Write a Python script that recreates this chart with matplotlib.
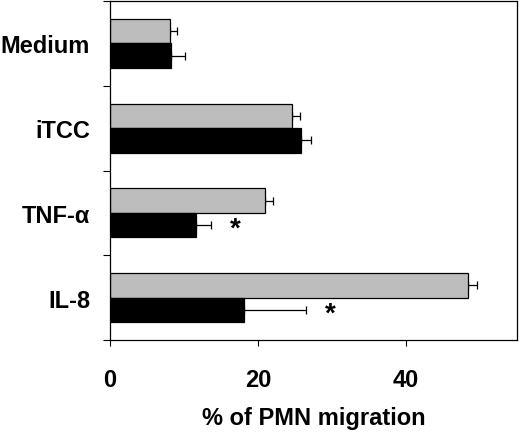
import matplotlib
matplotlib.use("Agg")
import matplotlib.pyplot as plt
import numpy as np

categories = ["Medium", "iTCC", "TNF-\u03b1", "IL-8"]
gray_values = [8.1, 24.6, 20.9, 48.4]
gray_errors = [1.0, 1.1, 1.1, 1.2]
black_values = [8.2, 25.8, 11.6, 18.1]
black_errors = [2.0, 1.4, 2.0, 8.4]
significant = [False, False, True, True]

plt.rcParams['font.family'] = ['Liberation Sans', 'DejaVu Sans']
plt.rcParams['font.weight'] = 'bold'

fig = plt.figure(figsize=(5.2, 4.35), dpi=100)
ax = fig.add_axes([110/520, 1 - 341/435, (517 - 110)/520, (341 - 2)/435])

n = len(categories)
centers = np.arange(n)[::-1] + 0.5
h = 0.29
ebar_kw = dict(fmt='none', ecolor='black', elinewidth=0.9, capsize=3, capthick=0.9)

ax.barh(centers + h/2, gray_values, height=h, color='#bdbdbd', edgecolor='black', linewidth=0.9, zorder=2)
ax.barh(centers - h/2, black_values, height=h, color='black', edgecolor='black', linewidth=0.9, zorder=2)
ax.errorbar(gray_values, centers + h/2, xerr=[np.zeros(n), gray_errors], zorder=1, **ebar_kw)
ax.errorbar(black_values, centers - h/2, xerr=[np.zeros(n), black_errors], zorder=1, **ebar_kw)

for c, v, e, s in zip(centers, black_values, black_errors, significant):
    if s:
        ax.text(v + e + 3.3, c - h/2 - 0.04, "*", ha='center', va='center',
                fontsize=20, fontweight='bold')

ax.set_xlim(0, 55)
ax.set_ylim(0, 4)
ax.set_xticks([0, 20, 40])
ax.set_yticks([0, 1, 2, 3, 4])
ax.set_yticklabels([])
ax.set_yticks(centers, minor=True)
ax.set_yticklabels(categories, minor=True)
ax.tick_params(axis='y', which='minor', length=0, pad=14.4, labelsize=17)
ax.tick_params(axis='y', which='major', length=5, width=0.8, direction='out')
ax.tick_params(axis='x', length=4, width=0.8, direction='out', pad=16, labelsize=17)
for lab in ax.get_xticklabels() + ax.get_yticklabels(minor=True):
    lab.set_fontweight('bold')
for sp in ax.spines.values():
    sp.set_linewidth(0.9)
ax.set_xlabel("% of PMN migration", fontsize=17, fontweight='bold', labelpad=11)

fig.savefig("out.png", dpi=100)
